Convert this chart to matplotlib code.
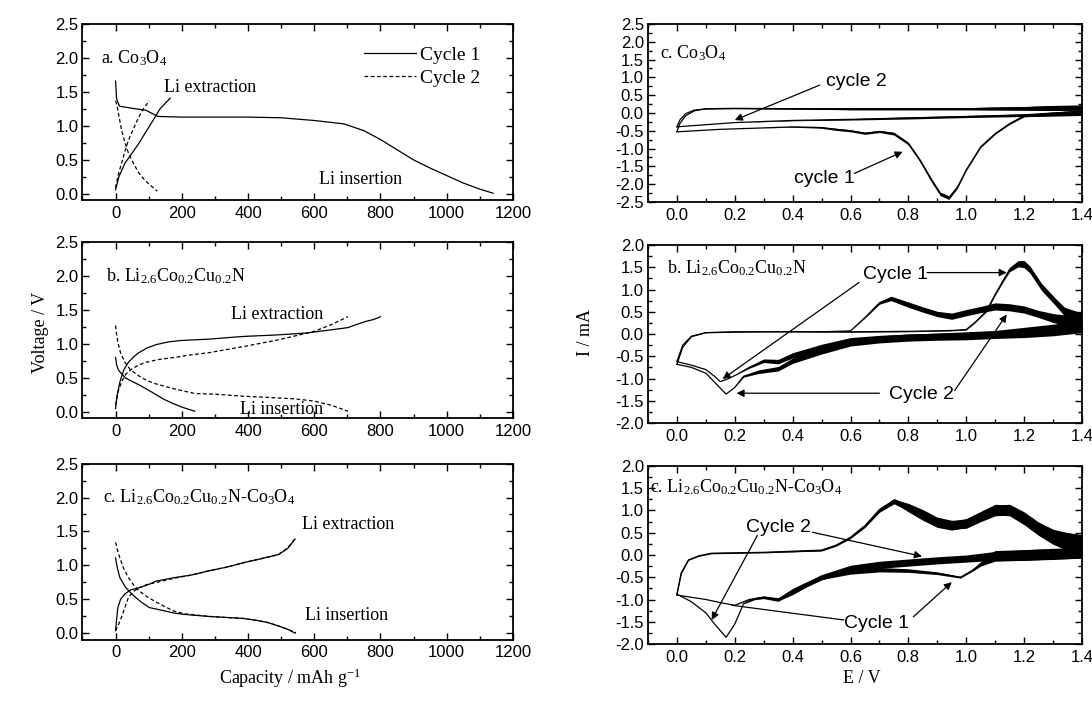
import numpy as np
import matplotlib
matplotlib.use('Agg')
import matplotlib.pyplot as plt
from matplotlib.ticker import MultipleLocator, FormatStrFormatter

plt.rcParams['font.family'] = 'Liberation Sans'
plt.rcParams['mathtext.fontset'] = 'custom'
plt.rcParams['mathtext.rm'] = 'Liberation Serif'
plt.rcParams['mathtext.it'] = 'Liberation Serif:italic'
plt.rcParams['mathtext.bf'] = 'Liberation Serif:bold'
plt.rcParams['mathtext.default'] = 'rm'
plt.rcParams['axes.unicode_minus'] = False

SERIF = 'Liberation Serif'

# ---------------- galvanostatic data (capacity mAh/g, voltage V) ----------------
a_c1_dis_cap = [0, 3, 12, 50, 92, 128, 200, 300, 400, 500, 600, 690, 750, 800, 850, 900, 950, 1000, 1050, 1100, 1140]
a_c1_dis_v = [1.66, 1.40, 1.29, 1.26, 1.23, 1.14, 1.13, 1.13, 1.13, 1.12, 1.08, 1.03, 0.93, 0.80, 0.65, 0.50, 0.38, 0.27, 0.16, 0.07, 0.01]
a_c1_chg_cap = [0, 10, 28, 50, 70, 90, 113, 134, 165]
a_c1_chg_v = [0.06, 0.25, 0.45, 0.60, 0.74, 0.90, 1.08, 1.25, 1.41]
a_c2_dis_cap = [0, 4, 7, 12, 18, 28, 39, 55, 70, 85, 102, 126]
a_c2_dis_v = [1.37, 1.31, 1.23, 1.10, 0.94, 0.76, 0.60, 0.44, 0.31, 0.22, 0.14, 0.04]
a_c2_chg_cap = [0, 8, 18, 28, 39, 55, 70, 85, 102]
a_c2_chg_v = [0.09, 0.28, 0.45, 0.62, 0.79, 0.97, 1.13, 1.26, 1.37]

b_c1_dis_cap = [0, 3, 8, 18, 30, 49, 70, 92, 120, 144, 170, 200, 239]
b_c1_dis_v = [0.80, 0.70, 0.62, 0.56, 0.50, 0.45, 0.40, 0.34, 0.26, 0.19, 0.13, 0.07, 0.01]
b_c1_chg_cap = [0, 5, 13, 25, 39, 55, 70, 95, 123, 160, 197, 281, 386, 480, 576, 640, 702, 730, 755, 780, 800]
b_c1_chg_v = [0.05, 0.25, 0.44, 0.62, 0.73, 0.81, 0.87, 0.94, 0.99, 1.03, 1.05, 1.07, 1.11, 1.13, 1.16, 1.20, 1.24, 1.29, 1.33, 1.36, 1.40]
b_c2_dis_cap = [0, 3, 7, 15, 28, 45, 70, 95, 123, 176, 239, 300, 386, 470, 544, 597, 650, 702]
b_c2_dis_v = [1.27, 1.15, 1.02, 0.87, 0.73, 0.62, 0.53, 0.46, 0.41, 0.34, 0.27, 0.26, 0.23, 0.21, 0.19, 0.16, 0.10, 0.01]
b_c2_chg_cap = [0, 8, 18, 30, 49, 70, 92, 130, 176, 230, 281, 386, 492, 597, 650, 702]
b_c2_chg_v = [0.10, 0.30, 0.44, 0.55, 0.63, 0.69, 0.73, 0.77, 0.80, 0.84, 0.87, 0.96, 1.06, 1.18, 1.28, 1.40]

c_c1_dis_cap = [0, 5, 13, 30, 49, 75, 102, 140, 176, 207, 281, 386, 428, 460, 492, 520, 542]
c_c1_dis_v = [1.11, 0.97, 0.82, 0.68, 0.58, 0.47, 0.38, 0.34, 0.30, 0.28, 0.25, 0.22, 0.19, 0.16, 0.11, 0.06, 0.005]
c_c1_chg_cap = [0, 3, 7, 15, 28, 45, 70, 100, 123, 176, 230, 281, 340, 386, 440, 492, 520, 542]
c_c1_chg_v = [0.04, 0.20, 0.38, 0.50, 0.58, 0.64, 0.67, 0.72, 0.77, 0.82, 0.86, 0.92, 0.98, 1.04, 1.10, 1.16, 1.25, 1.39]
c_c2_dis_cap = [0, 5, 13, 25, 39, 55, 70, 95, 123, 150, 176, 207, 281, 386, 428, 460, 492, 520, 545]
c_c2_dis_v = [1.34, 1.24, 1.11, 0.95, 0.82, 0.71, 0.63, 0.54, 0.46, 0.39, 0.33, 0.29, 0.25, 0.22, 0.19, 0.16, 0.11, 0.06, 0.01]
c_c2_chg_cap = [0, 8, 18, 28, 39, 55, 70, 95, 123, 176, 230, 281, 340, 386, 440, 492, 520, 545]
c_c2_chg_v = [0.04, 0.12, 0.24, 0.38, 0.53, 0.62, 0.67, 0.72, 0.75, 0.81, 0.86, 0.92, 0.98, 1.04, 1.10, 1.16, 1.26, 1.41]

# ---------------- cyclic voltammetry data (E V, I mA, noise half-width mA) ----------------
# Co3O4
cva_an_E = [0.0, 0.01, 0.03, 0.06, 0.1, 0.2, 0.4, 0.6, 0.8, 1.0, 1.2, 1.3, 1.4]
cva_c1_an_I = [-0.53, -0.30, -0.08, 0.06, 0.12, 0.13, 0.12, 0.12, 0.12, 0.12, 0.13, 0.14, 0.15]
cva_c2_an_I = [-0.39, -0.20, -0.02, 0.08, 0.11, 0.12, 0.12, 0.12, 0.12, 0.12, 0.13, 0.14, 0.15]
cva_an_noise = [0, 0, 0, 0, 0, 0, 0.01, 0.03, 0.03, 0.03, 0.05, 0.07, 0.07]
cva_c1_ca_E = [0.0, 0.15, 0.3, 0.4, 0.5, 0.55, 0.6, 0.65, 0.7, 0.75, 0.8, 0.84, 0.88, 0.91, 0.94, 0.97, 1.0, 1.05, 1.1, 1.15, 1.2, 1.3, 1.4]
cva_c1_ca_I = [-0.53, -0.46, -0.42, -0.39, -0.41, -0.46, -0.50, -0.57, -0.52, -0.58, -0.86, -1.33, -1.89, -2.27, -2.38, -2.08, -1.60, -0.95, -0.58, -0.30, -0.08, -0.02, 0.02]
cva_c1_ca_noise = [0, 0, 0, 0.01, 0.02, 0.03, 0.03, 0.03, 0.03, 0.04, 0.04, 0.04, 0.05, 0.05, 0.05, 0.03, 0.02, 0.02, 0.02, 0.02, 0.03, 0.05, 0.07]
cva_c2_ca_E = [0.0, 0.2, 0.4, 0.6, 0.8, 1.0, 1.2, 1.3, 1.4]
cva_c2_ca_I = [-0.39, -0.27, -0.21, -0.18, -0.14, -0.10, -0.06, -0.03, 0.0]
cva_c2_ca_noise = [0, 0, 0.01, 0.02, 0.03, 0.03, 0.04, 0.06, 0.07]

# Li2.6Co0.2Cu0.2N
cvb_c1_an_E = [0.0, 0.02, 0.05, 0.1, 0.2, 0.4, 0.6, 0.8, 0.95, 1.0, 1.03, 1.07, 1.1, 1.13, 1.15, 1.18, 1.2, 1.22, 1.26, 1.31, 1.34, 1.4]
cvb_c1_an_I = [-0.62, -0.25, -0.05, 0.03, 0.05, 0.05, 0.05, 0.06, 0.08, 0.10, 0.26, 0.52, 0.89, 1.23, 1.45, 1.58, 1.57, 1.45, 1.06, 0.71, 0.50, 0.35]
cvb_c1_an_noise = [0, 0, 0, 0, 0, 0, 0.01, 0.01, 0.01, 0.01, 0.01, 0.02, 0.02, 0.03, 0.05, 0.07, 0.08, 0.08, 0.08, 0.08, 0.1, 0.12]
cvb_c1_ca_E = [0.0, 0.05, 0.1, 0.13, 0.15, 0.18, 0.21, 0.25, 0.3, 0.35, 0.4, 0.5, 0.6, 0.7, 0.8, 0.9, 1.0, 1.1, 1.2, 1.3, 1.4]
cvb_c1_ca_I = [-0.62, -0.70, -0.80, -0.95, -1.07, -1.00, -0.90, -0.75, -0.60, -0.62, -0.48, -0.30, -0.15, -0.10, -0.07, -0.05, -0.03, 0.0, 0.05, 0.10, 0.20]
cvb_c1_ca_noise = [0, 0, 0, 0, 0, 0, 0, 0.02, 0.04, 0.05, 0.06, 0.07, 0.07, 0.07, 0.07, 0.07, 0.08, 0.08, 0.1, 0.12, 0.12]
cvb_c2_an_E = [0.0, 0.02, 0.05, 0.1, 0.3, 0.5, 0.6, 0.65, 0.7, 0.74, 0.8, 0.85, 0.9, 0.95, 1.0, 1.05, 1.1, 1.15, 1.2, 1.25, 1.3, 1.35, 1.4]
cvb_c2_an_I = [-0.68, -0.30, -0.06, 0.03, 0.05, 0.05, 0.07, 0.37, 0.70, 0.80, 0.66, 0.55, 0.45, 0.40, 0.48, 0.55, 0.62, 0.60, 0.55, 0.45, 0.36, 0.30, 0.25]
cvb_c2_an_noise = [0, 0, 0, 0, 0, 0, 0, 0.01, 0.03, 0.05, 0.06, 0.06, 0.06, 0.07, 0.07, 0.07, 0.08, 0.08, 0.08, 0.08, 0.1, 0.12, 0.12]
cvb_c2_ca_E = [0.0, 0.05, 0.1, 0.14, 0.17, 0.2, 0.23, 0.28, 0.35, 0.4, 0.5, 0.6, 0.7, 0.8, 0.9, 1.0, 1.1, 1.2, 1.3, 1.4]
cvb_c2_ca_I = [-0.68, -0.75, -0.88, -1.15, -1.35, -1.20, -0.95, -0.85, -0.78, -0.60, -0.38, -0.20, -0.12, -0.08, -0.06, -0.05, -0.02, 0.02, 0.08, 0.15]
cvb_c2_ca_noise = [0, 0, 0, 0, 0, 0, 0.02, 0.04, 0.05, 0.06, 0.07, 0.07, 0.08, 0.08, 0.08, 0.08, 0.08, 0.1, 0.12, 0.12]

# Li2.6Co0.2Cu0.2N-Co3O4
cvc_an_E = [0.0, 0.015, 0.04, 0.075, 0.12, 0.3, 0.5, 0.55, 0.6, 0.65, 0.7, 0.75, 0.8, 0.85, 0.9, 0.95, 1.0, 1.05, 1.1, 1.15, 1.2, 1.25, 1.3, 1.35, 1.4]
cvc_c1_an_I = [-0.90, -0.42, -0.12, -0.03, 0.03, 0.05, 0.10, 0.21, 0.38, 0.64, 0.99, 1.20, 1.08, 0.92, 0.75, 0.68, 0.70, 0.85, 1.00, 1.02, 0.85, 0.60, 0.42, 0.30, 0.25]
cvc_c2_an_I = [-0.88, -0.40, -0.11, -0.02, 0.04, 0.06, 0.11, 0.22, 0.40, 0.66, 1.02, 1.22, 1.05, 0.88, 0.72, 0.66, 0.72, 0.88, 1.02, 1.00, 0.80, 0.58, 0.40, 0.30, 0.26]
cvc_an_noise = [0, 0, 0, 0, 0, 0, 0.01, 0.01, 0.01, 0.02, 0.03, 0.05, 0.08, 0.1, 0.1, 0.1, 0.1, 0.1, 0.12, 0.12, 0.12, 0.14, 0.16, 0.2, 0.2]
cvc_c1_ca_E = [0.0, 0.05, 0.1, 0.15, 0.2, 0.25, 0.3, 0.35, 0.4, 0.45, 0.5, 0.6, 0.7, 0.8, 0.9, 0.98, 1.02, 1.05, 1.08, 1.1, 1.2, 1.3, 1.4]
cvc_c1_ca_I = [-0.90, -0.95, -1.00, -1.07, -1.13, -1.00, -0.95, -1.00, -0.85, -0.66, -0.50, -0.38, -0.33, -0.35, -0.41, -0.50, -0.35, -0.20, -0.08, -0.02, 0.0, 0.02, 0.05]
cvc_c1_ca_noise = [0, 0, 0, 0, 0, 0.01, 0.02, 0.03, 0.04, 0.05, 0.05, 0.05, 0.05, 0.04, 0.03, 0.02, 0.02, 0.05, 0.1, 0.12, 0.12, 0.12, 0.12]
cvc_c2_ca_E = [0.0, 0.05, 0.1, 0.13, 0.17, 0.2, 0.23, 0.27, 0.3, 0.35, 0.4, 0.5, 0.6, 0.7, 0.8, 0.9, 1.0, 1.1, 1.2, 1.3, 1.4]
cvc_c2_ca_I = [-0.88, -1.05, -1.30, -1.55, -1.85, -1.55, -1.10, -0.98, -0.95, -1.00, -0.80, -0.50, -0.30, -0.22, -0.17, -0.12, -0.08, -0.02, 0.0, 0.03, 0.05]
cvc_c2_ca_noise = [0, 0, 0, 0, 0, 0, 0, 0.02, 0.03, 0.04, 0.05, 0.06, 0.07, 0.08, 0.08, 0.08, 0.08, 0.1, 0.12, 0.12, 0.12]


def style_axes(ax, xmaj, xmin, ymaj, ymin, fmt_x, fmt_y):
    ax.xaxis.set_major_locator(MultipleLocator(xmaj))
    ax.xaxis.set_minor_locator(MultipleLocator(xmin))
    ax.yaxis.set_major_locator(MultipleLocator(ymaj))
    ax.yaxis.set_minor_locator(MultipleLocator(ymin))
    ax.xaxis.set_major_formatter(FormatStrFormatter(fmt_x))
    ax.yaxis.set_major_formatter(FormatStrFormatter(fmt_y))
    ax.tick_params(which='both', direction='in', top=True, right=True, width=1.0, labelsize=12)
    ax.tick_params(which='major', length=5)
    ax.tick_params(which='minor', length=3)
    ax.tick_params(axis='x', pad=4)
    ax.tick_params(axis='y', pad=3)
    for s in ax.spines.values():
        s.set_linewidth(1.3)


def cv_branch(ax, E, I, noise):
    E = np.array(E)
    I = np.array(I)
    n = np.array(noise)
    ax.plot(E, I, color='black', lw=0.9)
    ax.fill_between(E, I - n, I + n, color='black', lw=0)


def arrow(ax, tail, head, style='-|>'):
    ax.annotate('', xy=head, xytext=tail,
                arrowprops=dict(arrowstyle=style, color='black', lw=0.9,
                                mutation_scale=11, shrinkA=0, shrinkB=0))


fig = plt.figure(figsize=(10.92, 7.02), dpi=100)

left_pos = [[0.0755, 0.7151, 0.3942, 0.2507],
            [0.0755, 0.4046, 0.3942, 0.2507],
            [0.0755, 0.0890, 0.3942, 0.2507]]
right_pos = [[0.5934, 0.7123, 0.3974, 0.2536],
             [0.5934, 0.3974, 0.3974, 0.2536],
             [0.5934, 0.0826, 0.3974, 0.2536]]

dash = (0, (3, 2))
solid_kw = dict(color='black', lw=0.9)
dash_kw = dict(color='black', lw=0.9, linestyle=dash)

# ---------------- left column ----------------
gal = [
    (a_c1_dis_cap, a_c1_dis_v, a_c1_chg_cap, a_c1_chg_v, a_c2_dis_cap, a_c2_dis_v, a_c2_chg_cap, a_c2_chg_v),
    (b_c1_dis_cap, b_c1_dis_v, b_c1_chg_cap, b_c1_chg_v, b_c2_dis_cap, b_c2_dis_v, b_c2_chg_cap, b_c2_chg_v),
    (c_c1_dis_cap, c_c1_dis_v, c_c1_chg_cap, c_c1_chg_v, c_c2_dis_cap, c_c2_dis_v, c_c2_chg_cap, c_c2_chg_v),
]
gal_labels = [r'a. Co$_3$O$_4$',
              r'b. Li$_{2.6}$Co$_{0.2}$Cu$_{0.2}$N',
              r'c. Li$_{2.6}$Co$_{0.2}$Cu$_{0.2}$N-Co$_3$O$_4$']
label_x = [-45, -30, -38]
extraction_xy = [(286, 1.57), (489, 1.43), (702, 1.60)]
insertion_xy = [(741, 0.21), (502, 0.03), (697, 0.26)]

for i, pos in enumerate(left_pos):
    ax = fig.add_axes(pos)
    d = gal[i]
    l1, = ax.plot(d[0], d[1], **solid_kw)
    ax.plot(d[2], d[3], **solid_kw)
    l2, = ax.plot(d[4], d[5], **dash_kw)
    ax.plot(d[6], d[7], **dash_kw)
    ax.set_xlim(-100, 1200)
    ax.set_ylim(-0.09, 2.5)
    style_axes(ax, 200, 100, 0.5, 0.25, '%d', '%.1f')
    ax.text(label_x[i], 2.0, gal_labels[i], family=SERIF, fontsize=13, va='center', ha='left')
    ax.text(*extraction_xy[i], 'Li extraction', family=SERIF, fontsize=13, ha='center', va='center')
    ax.text(*insertion_xy[i], 'Li insertion', family=SERIF, fontsize=13, ha='center', va='center')
    if i == 0:
        ax.legend([l1, l2], ['Cycle 1', 'Cycle 2'], loc='upper right', frameon=False,
                  bbox_to_anchor=(0.965, 0.975), handlelength=2.7, handletextpad=0.2,
                  labelspacing=0.3, prop={'family': SERIF, 'size': 14})

fig.text(0.0375, 0.526, 'Voltage / V', family=SERIF, fontsize=13, rotation=90, ha='center', va='center')
fig.text(0.266, 0.034, r'Capacity / mAh g$^{-1}$', family=SERIF, fontsize=13, ha='center', va='center')

# ---------------- right column ----------------
ax = fig.add_axes(right_pos[0])
cv_branch(ax, cva_an_E, cva_c1_an_I, cva_an_noise)
cv_branch(ax, cva_an_E, cva_c2_an_I, cva_an_noise)
cv_branch(ax, cva_c1_ca_E, cva_c1_ca_I, cva_c1_ca_noise)
cv_branch(ax, cva_c2_ca_E, cva_c2_ca_I, cva_c2_ca_noise)
ax.set_xlim(-0.1, 1.4)
ax.set_ylim(-2.5, 2.5)
style_axes(ax, 0.2, 0.1, 0.5, 0.25, '%.1f', '%.1f')
ax.text(-0.057, 1.67, r'c. Co$_3$O$_4$', family=SERIF, fontsize=13, va='center', ha='left')
ax.text(0.62, 0.88, 'cycle 2', fontsize=14, ha='center', va='center')
arrow(ax, (0.493, 0.78), (0.2, -0.2))
ax.text(0.51, -1.84, 'cycle 1', fontsize=14, ha='center', va='center')
arrow(ax, (0.613, -1.70), (0.78, -1.09))

ax = fig.add_axes(right_pos[1])
cv_branch(ax, cvb_c1_an_E, cvb_c1_an_I, cvb_c1_an_noise)
cv_branch(ax, cvb_c1_ca_E, cvb_c1_ca_I, cvb_c1_ca_noise)
cv_branch(ax, cvb_c2_an_E, cvb_c2_an_I, cvb_c2_an_noise)
cv_branch(ax, cvb_c2_ca_E, cvb_c2_ca_I, cvb_c2_ca_noise)
ax.set_xlim(-0.1, 1.4)
ax.set_ylim(-2.0, 2.0)
style_axes(ax, 0.2, 0.1, 0.5, 0.25, '%.1f', '%.1f')
ax.text(-0.034, 1.49, r'b. Li$_{2.6}$Co$_{0.2}$Cu$_{0.2}$N', family=SERIF, fontsize=13, va='center', ha='left')
ax.text(0.754, 1.34, 'Cycle 1', fontsize=14, ha='center', va='center')
arrow(ax, (0.63, 1.16), (0.158, -1.01))
arrow(ax, (0.865, 1.38), (1.14, 1.38))
ax.text(0.847, -1.35, 'Cycle 2', fontsize=14, ha='center', va='center')
arrow(ax, (0.70, -1.33), (0.206, -1.33))
arrow(ax, (0.96, -1.27), (1.14, 0.44))

ax = fig.add_axes(right_pos[2])
cv_branch(ax, cvc_an_E, cvc_c1_an_I, cvc_an_noise)
cv_branch(ax, cvc_an_E, cvc_c2_an_I, cvc_an_noise)
cv_branch(ax, cvc_c1_ca_E, cvc_c1_ca_I, cvc_c1_ca_noise)
cv_branch(ax, cvc_c2_ca_E, cvc_c2_ca_I, cvc_c2_ca_noise)
ax.set_xlim(-0.1, 1.4)
ax.set_ylim(-2.0, 2.0)
style_axes(ax, 0.2, 0.1, 0.5, 0.25, '%.1f', '%.1f')
ax.text(-0.093, 1.52, r'c. Li$_{2.6}$Co$_{0.2}$Cu$_{0.2}$N-Co$_3$O$_4$', family=SERIF, fontsize=13, va='center', ha='left')
ax.text(0.35, 0.61, 'Cycle 2', fontsize=14, ha='center', va='center')
arrow(ax, (0.278, 0.44), (0.12, -1.46))
arrow(ax, (0.469, 0.51), (0.847, -0.03))
ax.text(0.69, -1.54, 'Cycle 1', fontsize=14, ha='center', va='center')
arrow(ax, (0.577, -1.46), (0.19, -1.13), style='-')
arrow(ax, (0.817, -1.39), (0.95, -0.61))

fig.text(0.5366, 0.526, 'I / mA', family=SERIF, fontsize=13, rotation=90, ha='center', va='center')
fig.text(0.789, 0.034, 'E / V', family=SERIF, fontsize=13, ha='center', va='center')

fig.savefig('out.png', dpi=100)
